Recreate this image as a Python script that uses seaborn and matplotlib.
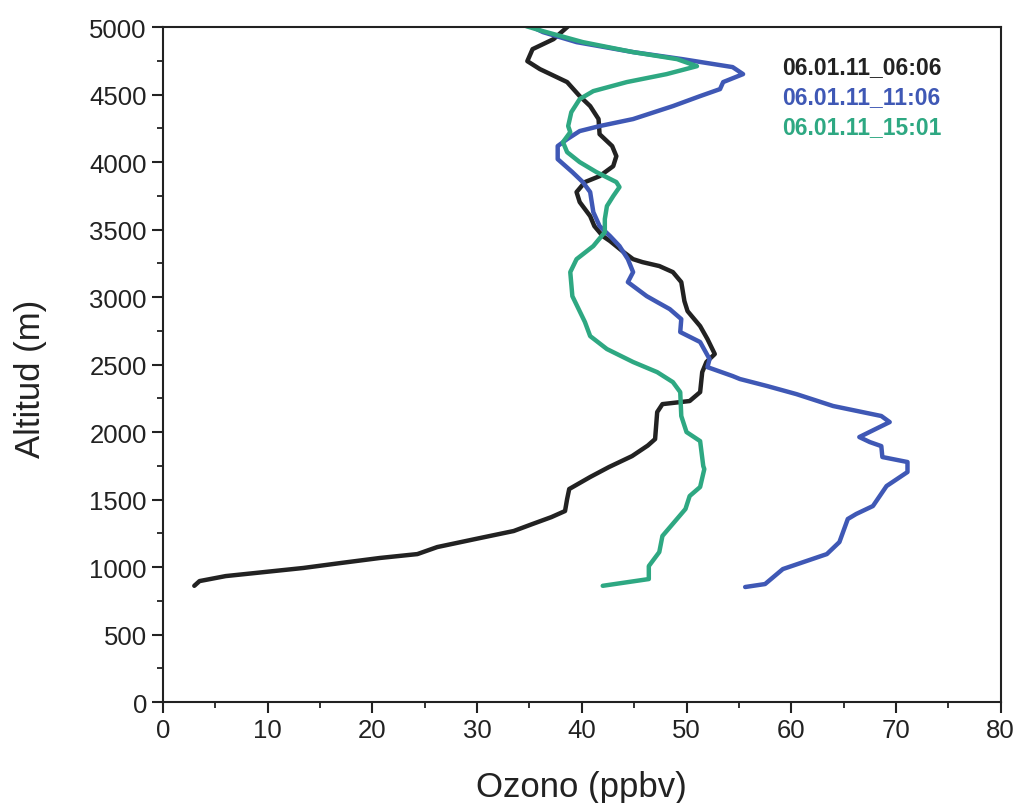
import numpy as np
import pandas as pd
import matplotlib
matplotlib.use('Agg')
import matplotlib.pyplot as plt
import seaborn as sns
from matplotlib.ticker import MultipleLocator

# Perfiles verticales de ozono (altitud en m, ozono en ppbv)
series = ['06.01.11_06:06', '06.01.11_11:06', '06.01.11_15:01']
colores = ['#222222', '#3f58b5', '#2ea882']

alt_0606 = [861, 896, 933, 963, 993, 1030, 1067, 1096, 1148, 1207, 1267, 1319, 1370,
            1415, 1504, 1578, 1667, 1741, 1822, 1900, 1948, 2148, 2207, 2230, 2296,
            2444, 2519, 2578, 2689, 2785, 2896, 2970, 3111, 3185, 3230, 3259, 3281,
            3333, 3415, 3452, 3526, 3600, 3704, 3778, 3852, 3896, 3970, 4044, 4119,
            4207, 4319, 4415, 4489, 4593, 4689, 4748, 4837, 4911, 5000, 5060]
oz_0606 = [3.0, 3.5, 6.0, 9.7, 13.4, 17.0, 20.7, 24.3, 26.2, 29.8, 33.5, 35.3, 37.1,
           38.4, 38.6, 38.8, 40.8, 42.6, 44.8, 46.3, 47.0, 47.2, 47.7, 50.3, 51.3,
           51.5, 51.9, 52.7, 52.0, 51.3, 50.1, 49.8, 49.5, 48.7, 47.4, 45.8, 44.9,
           44.0, 42.7, 42.0, 41.2, 40.8, 39.8, 39.5, 40.3, 41.7, 43.0, 43.3, 42.9,
           41.7, 41.6, 40.8, 39.8, 38.6, 36.0, 34.8, 35.3, 37.3, 38.6, 39.5]

alt_1106 = [852, 874, 985, 1096, 1185, 1356, 1393, 1452, 1600, 1704, 1778, 1815, 1896,
            1926, 1963, 2074, 2119, 2193, 2281, 2341, 2393, 2415, 2481, 2541, 2667,
            2741, 2837, 2911, 2963, 3007, 3111, 3185, 3281, 3378, 3452, 3526, 3630,
            3778, 3852, 3926, 4022, 4119, 4170, 4230, 4267, 4319, 4415, 4489, 4541,
            4593, 4652, 4704, 4763, 4815, 4889, 4963, 5000]
oz_1106 = [55.6, 57.5, 59.2, 63.4, 64.6, 65.4, 66.2, 67.8, 69.1, 71.1, 71.1, 68.7, 68.6,
           67.5, 66.5, 69.4, 68.6, 64.0, 60.5, 57.7, 55.1, 54.4, 52.0, 52.2, 51.3,
           49.4, 49.5, 48.4, 47.2, 46.2, 44.4, 44.9, 44.4, 43.6, 42.7, 41.7, 41.1,
           40.8, 40.1, 39.1, 37.7, 37.7, 38.6, 39.8, 41.7, 44.9, 48.7, 51.3, 53.2,
           53.5, 55.4, 54.4, 49.6, 44.9, 39.5, 36.3, 35.3]

alt_1501 = [861, 911, 1007, 1111, 1230, 1430, 1526, 1593, 1726, 1748, 1933, 2000, 2119,
            2296, 2370, 2444, 2519, 2615, 2711, 2815, 3007, 3185, 3281, 3378, 3481,
            3578, 3674, 3748, 3815, 3852, 3926, 4000, 4074, 4148, 4222, 4267, 4370,
            4467, 4526, 4593, 4652, 4711, 4763, 4815, 4889, 4970, 5007]
oz_1501 = [42.0, 46.4, 46.4, 47.4, 47.7, 49.9, 50.3, 51.3, 51.7, 51.6, 51.3, 50.0, 49.5,
           49.4, 48.7, 47.2, 44.9, 42.4, 40.8, 40.3, 39.1, 38.9, 39.5, 41.1, 42.2,
           42.2, 42.4, 43.0, 43.6, 43.3, 41.4, 39.8, 38.6, 38.2, 38.9, 38.7, 39.0,
           39.8, 41.1, 44.3, 48.1, 51.0, 49.1, 44.9, 40.1, 36.3, 34.7]

frames = []
for nombre, alt, oz in zip(series, [alt_0606, alt_1106, alt_1501],
                           [oz_0606, oz_1106, oz_1501]):
    d = pd.DataFrame({'ozono': oz, 'altitud': alt})
    d['serie'] = nombre
    frames.append(d)
df = pd.concat(frames, ignore_index=True)

sns.set_style('ticks')
plt.rcParams['font.family'] = ['Liberation Sans', 'DejaVu Sans']

fig = plt.figure(figsize=(10.18, 8.04), dpi=100)
ax = fig.add_axes([0.160, 0.1256, 0.823, 0.8394])

sns.lineplot(data=df, x='ozono', y='altitud', hue='serie', units='serie',
             estimator=None, sort=False, palette=dict(zip(series, colores)),
             linewidth=3.2, legend=False, ax=ax)

ax.set_xlim(0, 80)
ax.set_ylim(0, 5000)
ax.xaxis.set_major_locator(MultipleLocator(10))
ax.xaxis.set_minor_locator(MultipleLocator(5))
ax.yaxis.set_major_locator(MultipleLocator(500))
ax.yaxis.set_minor_locator(MultipleLocator(250))
ax.tick_params(which='major', direction='out', length=8, width=1.5, labelsize=18.5,
               top=False, right=False, colors='#222222')
ax.tick_params(which='minor', direction='out', length=4, width=1.3,
               top=False, right=False, colors='#222222')
for s in ax.spines.values():
    s.set_visible(True)
    s.set_linewidth(1.5)
    s.set_color('#222222')

ax.set_xlabel('Ozono (ppbv)', fontsize=25, labelpad=20, color='#222222')
ax.set_ylabel('Altitud (m)', fontsize=25, color='#222222')
ax.yaxis.set_label_coords(-0.138, 0.48)

# leyenda como texto de color
for i, (nombre, c) in enumerate(zip(series, colores)):
    ax.text(0.739, 0.942 - i * 0.0445, nombre, transform=ax.transAxes,
            color=c, fontsize=16.5, fontweight='bold', va='center', ha='left')

fig.savefig('out.png', dpi=100, facecolor='white')
